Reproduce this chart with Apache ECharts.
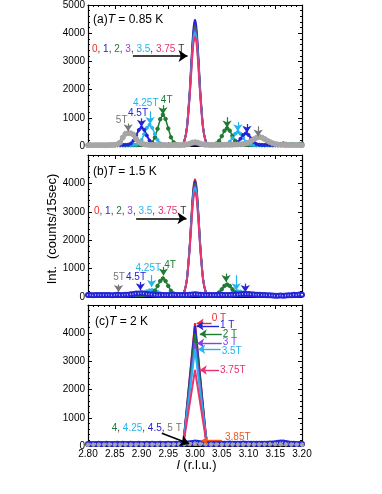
<!DOCTYPE html>
<html>
<head>
<meta charset="utf-8">
<script src="https://cdn.jsdelivr.net/npm/echarts@6/dist/echarts.min.js"></script>
<style>
html, body { margin: 0; padding: 0; background: #fff; }
#chart { width: 382px; height: 494px; }
</style>
</head>
<body>
<div id="chart"></div>
<script>
// l grid (r.l.u.), step 0.005 and step 0.01
const L = [2.800,2.805,2.810,2.815,2.820,2.825,2.830,2.835,2.840,2.845,
  2.850,2.855,2.860,2.865,2.870,2.875,2.880,2.885,2.890,2.895,
  2.900,2.905,2.910,2.915,2.920,2.925,2.930,2.935,2.940,2.945,
  2.950,2.955,2.960,2.965,2.970,2.975,2.980,2.985,2.990,2.995,
  3.000,3.005,3.010,3.015,3.020,3.025,3.030,3.035,3.040,3.045,
  3.050,3.055,3.060,3.065,3.070,3.075,3.080,3.085,3.090,3.095,
  3.100,3.105,3.110,3.115,3.120,3.125,3.130,3.135,3.140,3.145,
  3.150,3.155,3.160,3.165,3.170,3.175,3.180,3.185,3.190,3.195,3.200];
const L10 = [2.80,2.81,2.82,2.83,2.84,2.85,2.86,2.87,2.88,2.89,
  2.90,2.91,2.92,2.93,2.94,2.95,2.96,2.97,2.98,2.99,
  3.00,3.01,3.02,3.03,3.04,3.05,3.06,3.07,3.08,3.09,
  3.10,3.11,3.12,3.13,3.14,3.15,3.16,3.17,3.18,3.19,3.20];
const fitL = [2.96,2.97,2.975,2.98,2.985,2.99,2.9925,2.995,2.9975,3.00,
  3.0025,3.005,3.0075,3.01,3.015,3.02,3.025,3.03,3.04];
const triL = [2.978, 3.00, 3.022];
const orangeL = [2.96, 2.98, 2.99, 3.00, 3.01, 3.02, 3.04];

// (a) T = 0.85 K : fits for 0, 1, 2, 3, 3.5, 3.75 T
const a0 = [30,32,52,176,675,1879,2705,3513,4111,4330,4111,3513,2705,1879,675,176,52,32,30];
const a1 = [30,32,52,181,698,1944,2798,3635,4253,4480,4253,3635,2798,1944,698,181,52,32,30];
const a2 = [30,32,51,173,660,1836,2642,3432,4016,4230,4016,3432,2642,1836,660,173,51,32,30];
const a3 = [30,32,50,169,645,1793,2580,3351,3921,4130,3921,3351,2580,1793,645,169,50,32,30];
const a35 = [30,32,50,166,630,1750,2518,3270,3826,4030,3826,3270,2518,1750,630,166,50,32,30];
const a375 = [30,32,49,161,608,1686,2425,3149,3684,3880,3684,3149,2425,1686,608,161,49,32,30];
// (a) data 4, 4.25, 4.5, 5 T
const a4 = [25,30,22,35,28,30,24,32,27,30,
  26,33,28,30,25,31,29,34,30,36,
  38,40,45,60,125,300,610,950,1110,960,
  620,310,130,60,40,35,32,40,65,110,
  140,115,65,40,35,38,40,50,85,180,
  350,540,630,545,360,185,90,50,40,35,
  38,32,36,30,34,31,28,33,30,27,
  30,26,32,35,28,40,60,45,30,70,85];
const a425 = [30,28,33,26,31,29,35,27,30,32,
  28,34,30,36,33,38,35,40,48,92,
  210,420,645,750,650,420,215,95,50,36,
  32,30,35,29,31,33,30,36,50,70,
  80,68,48,35,30,33,29,31,30,34,
  36,42,72,150,285,430,500,435,290,150,
  72,42,34,30,32,28,31,29,33,30,
  27,31,29,34,30,28,32,30,29,33,31];
const a45 = [35,42,30,38,45,33,40,36,44,31,
  39,35,41,37,40,48,85,190,370,570,
  660,575,375,192,88,48,36,34,38,32,
  36,30,35,33,37,31,34,38,45,55,
  60,52,42,35,32,36,30,34,31,35,
  33,38,34,36,42,68,135,258,390,450,
  392,260,138,70,44,38,35,40,33,37,
  34,45,70,95,80,50,38,60,42,35,55];
const a5 = [30,32,28,31,30,33,29,31,34,36,
  40,60,120,300,430,455,450,400,250,140,
  90,60,45,38,35,33,34,31,35,33,
  30,34,32,36,33,38,42,55,80,120,
  135,120,80,55,45,40,38,36,40,38,
  42,40,45,42,48,50,55,60,70,85,
  120,180,240,290,320,300,250,190,140,100,
  70,55,45,40,38,35,36,33,35,32,30];

// (b) T = 1.5 K
const b0 = [50,52,71,189,665,1813,2600,3371,3941,4150,3941,3371,2600,1813,665,189,71,52,50];
const b1 = [50,52,70,187,655,1783,2557,3314,3874,4080,3874,3314,2557,1783,655,187,70,52,50];
const b2 = [50,52,70,184,643,1749,2507,3250,3799,4000,3799,3250,2507,1749,643,184,70,52,50];
const b3 = [50,52,69,181,628,1706,2445,3169,3704,3900,3704,3169,2445,1706,628,181,69,52,50];
const b35 = [50,52,69,179,620,1684,2414,3128,3656,3850,3656,3128,2414,1684,620,179,69,52,50];
const b375 = [50,52,68,174,598,1620,2320,3007,3514,3700,3514,3007,2320,1620,598,174,68,52,50];
const b4 = [55,62,58,60,65,57,61,59,63,58,
  60,64,57,62,60,58,65,61,59,63,
  60,66,72,85,120,220,390,560,655,560,
  390,220,120,80,66,62,60,64,75,95,
  110,95,75,62,58,61,60,70,95,160,
  270,390,440,390,270,160,95,70,62,60,
  64,58,61,59,63,57,60,62,58,56,
  50,48,45,52,40,55,70,60,85,75,65];
const b425 = [60,58,62,59,61,57,63,60,58,62,
  60,59,61,63,60,62,64,66,70,80,
  110,150,200,235,245,225,180,130,95,75,
  66,63,61,60,62,59,61,63,65,70,
  75,70,64,61,60,62,59,61,63,62,
  66,72,85,110,150,185,200,190,160,120,
  90,72,64,61,60,58,62,57,55,50,
  46,52,42,48,55,60,50,62,68,58,55];
const b45 = [68,72,65,70,74,67,71,69,73,66,
  70,75,68,72,76,80,95,110,120,125,
  128,122,110,95,85,78,74,72,70,73,
  69,71,75,72,68,70,73,71,80,90,
  95,88,78,72,70,74,69,71,73,70,
  75,72,69,74,76,80,85,95,105,110,
  108,98,88,80,76,72,70,65,60,55,
  48,45,55,40,50,65,60,80,70,90,75];

// (c) T = 2 K
const c0 = [40,4355,40];
const c1 = [40,4270,40];
const c2 = [40,3980,40];
const c3 = [40,3650,40];
const c35 = [40,3440,40];
const c375 = [40,2700,40];
const c385 = [50,60,110,160,140,80,55];
const c4 = [60,65,58,62,66,60,64,68,62,66,70,65,68,72,66,70,74,78,85,95,
  120,100,85,80,88,95,90,100,92,96,88,92,85,90,95,100,110,90,80,75,70];
const c425 = [55,58,52,56,60,54,57,53,59,55,58,56,60,54,58,62,60,65,70,85,
  100,85,70,65,62,60,64,60,62,58,61,60,63,59,62,66,70,64,60,58,55];
const c45 = [70,75,68,72,78,70,74,80,72,69,
  75,78,71,76,73,70,77,74,72,79,
  75,71,76,73,78,74,70,76,72,75,
  79,73,71,77,74,80,85,90,95,110,
  125,115,95,85,78,75,72,78,74,80,
  76,82,78,85,80,76,83,79,86,82,
  78,84,80,77,82,80,78,82,85,90,
  100,115,125,120,105,90,82,78,75,70,68];
const c5 = [45,48,44,46,50,47,45,49,46,48,50,47,49,46,48,52,50,55,60,70,
  80,70,60,55,52,50,53,55,52,54,56,53,55,58,60,62,58,55,52,50,48];

const RED = '#ee2a2a', BLUE = '#2424d6', GREEN = '#1f7a32', PURPLE = '#8c3fe6',
  CYAN = '#23b3ee', PINK = '#e8336e', GRAY = '#a6a6a6', DGRAY = '#777777',
  ORANGE = '#f0561e', BLACK = '#000000';
const FONT = 'Liberation Sans, Arial, Helvetica, sans-serif';

// arrows: [x1, y1, x2, y2, colour]
const arrowsA = [
  [2.875, 800, 2.875, 520, DGRAY], [2.900, 980, 2.900, 680, BLUE],
  [2.916, 1230, 2.916, 780, CYAN], [2.940, 1450, 2.940, 1130, GREEN],
  [3.060, 1020, 3.060, 660, GREEN], [3.080, 850, 3.080, 520, CYAN],
  [3.097, 780, 3.097, 470, BLUE], [3.118, 700, 3.118, 340, DGRAY]
];
const bigA = [[2.884, 3190, 2.986, 3190, BLACK]];
const arrowsB = [
  [2.857, 437, 2.857, 177, DGRAY], [2.898, 530, 2.898, 237, BLUE],
  [2.919, 767, 2.919, 353, CYAN], [2.941, 1060, 2.941, 760, GREEN],
  [3.058, 826, 3.058, 530, GREEN], [3.077, 767, 3.077, 237, CYAN],
  [3.094, 473, 3.094, 177, BLUE]
];
const bigB = [[2.890, 2770, 2.984, 2770, BLACK]];
const arrowsC = [
  [3.031, 4355, 3.003, 4355, RED], [3.045, 4260, 3.003, 4260, BLUE],
  [3.050, 3975, 3.009, 3975, GREEN], [3.050, 3644, 3.004, 3644, PURPLE],
  [3.048, 3430, 3.006, 3430, CYAN], [3.045, 2694, 3.009, 2694, PINK],
  [3.050, 190, 3.012, 190, ORANGE]
];
const bigC = [[2.938, 450, 2.989, 80, BLACK]];

const grids = [
  { left: 88, right: 80, top: 5, height: 141 },
  { left: 88, right: 80, top: 155, height: 142 },
  { left: 88, right: 80, top: 305, height: 141 }
];

function xAxis(i, pos) {
  return {
    type: 'value', gridIndex: i, position: pos, min: 2.8, max: 3.2, interval: 0.05,
    axisLine: { show: true, onZero: false, lineStyle: { color: '#000', width: 1.2 } },
    axisTick: { show: true, inside: true, length: 4, lineStyle: { color: '#000' } },
    minorTick: { show: true, splitNumber: 5, length: 2, lineStyle: { color: '#000' } },
    axisLabel: {
      show: i === 2 && pos === 'bottom', formatter: v => v.toFixed(2),
      fontSize: 10, color: '#000', margin: 3, fontFamily: FONT,
      showMinLabel: true, showMaxLabel: true
    },
    splitLine: { show: false }
  };
}
function yAxis(i, pos) {
  return {
    type: 'value', gridIndex: i, position: pos, min: 0, max: 5000, interval: 1000,
    axisLine: { show: true, onZero: false, lineStyle: { color: '#000', width: 1.2 } },
    axisTick: { show: true, inside: true, length: 4, lineStyle: { color: '#000' } },
    minorTick: { show: true, splitNumber: 5, length: 2, lineStyle: { color: '#000' } },
    axisLabel: {
      show: pos === 'left', formatter: v => (i > 0 && v === 5000) ? '' : String(v),
      fontSize: 10, color: '#000', margin: 3, fontFamily: FONT
    },
    splitLine: { show: false }
  };
}

function pairs(xs, ys) {
  return xs.map((x, k) => [x, ys[k]]);
}
function fit(i, ys, color) {
  return {
    type: 'line', xAxisIndex: 2 * i, yAxisIndex: 2 * i, data: pairs(fitL, ys),
    showSymbol: false, smooth: 0.2, lineStyle: { color: color, width: 1.8 },
    itemStyle: { color: color }, silent: true
  };
}
function tri(i, ys, color) {
  return {
    type: 'line', xAxisIndex: 2 * i, yAxisIndex: 2 * i, data: pairs(triL, ys),
    showSymbol: false, lineStyle: { color: color, width: 2 },
    itemStyle: { color: color }, silent: true
  };
}
function pts(i, xs, ys, color, width, symbol, size) {
  return {
    type: 'line', xAxisIndex: 2 * i, yAxisIndex: 2 * i, data: pairs(xs, ys),
    symbol: symbol, symbolSize: size, showSymbol: true,
    lineStyle: { color: color, width: width },
    itemStyle: { color: color, borderColor: color, borderWidth: 1 }, silent: true
  };
}
function arrows(i, list, size, width) {
  return {
    type: 'line', xAxisIndex: 2 * i, yAxisIndex: 2 * i, data: [], silent: true,
    markLine: {
      silent: true, animation: false, symbol: ['none', 'arrow'], symbolSize: size,
      label: { show: false }, emphasis: { disabled: true },
      data: list.map(a => [
        { coord: [a[0], a[1]], lineStyle: { color: a[4], width: width, type: 'solid' }, itemStyle: { color: a[4] } },
        { coord: [a[2], a[3]] }
      ])
    }
  };
}

function txt(x, y, text, color, size, align, rich) {
  return {
    type: 'text', x: x, y: y, silent: true,
    style: {
      text: text, fill: color, fontSize: size, fontFamily: FONT,
      align: align || 'left', verticalAlign: 'middle', rich: rich || {}
    }
  };
}
function r(color, size) {
  return { fill: color, color: color, fontSize: size, fontFamily: FONT };
}
const fieldRich = {
  r: r(RED, 10), b: r(BLUE, 10), g: r(GREEN, 10), p: r(PURPLE, 10),
  c: r(CYAN, 10), k: r(PINK, 10), d: r(DGRAY, 10)
};
const itRich = { i: { fontStyle: 'italic', fontSize: 12, fontFamily: FONT, fill: '#000' } };

const series = [
  fit(0, a0, RED), fit(0, a1, BLUE), fit(0, a2, GREEN), fit(0, a3, PURPLE), fit(0, a35, CYAN), fit(0, a375, PINK),
  pts(0, L, a4, GREEN, 1.5, 'circle', 3.5),
  pts(0, L, a425, CYAN, 1.5, 'circle', 3),
  pts(0, L, a45, BLUE, 2, 'circle', 3),
  pts(0, L, a5, GRAY, 3.5, 'circle', 5),
  arrows(0, arrowsA, 7, 1.2), arrows(0, bigA, 9, 1.6),

  fit(1, b0, RED), fit(1, b1, BLUE), fit(1, b2, GREEN), fit(1, b3, PURPLE), fit(1, b35, CYAN), fit(1, b375, PINK),
  pts(1, L, b425, CYAN, 1.5, 'circle', 3),
  pts(1, L, b4, GREEN, 1.5, 'circle', 3.5),
  pts(1, L, b45, BLUE, 1, 'emptyCircle', 4),
  arrows(1, arrowsB, 7, 1.2), arrows(1, bigB, 9, 1.6),

  pts(2, L10, c425, CYAN, 1.2, 'circle', 3),
  pts(2, L10, c4, GREEN, 1.2, 'circle', 3),
  pts(2, L, c45, BLUE, 1, 'emptyCircle', 4),
  pts(2, L10, c5, GRAY, 2.5, 'circle', 3.5),
  pts(2, orangeL, c385, ORANGE, 1.5, 'none', 0),
  tri(2, c0, RED), tri(2, c1, BLUE), tri(2, c2, GREEN), tri(2, c3, PURPLE), tri(2, c35, CYAN), tri(2, c375, PINK),
  arrows(2, arrowsC, 7, 1.4), arrows(2, bigC, 9, 1.6)
];

const graphic = [
  txt(93, 20, '(a){i|T} = 0.85 K', '#000', 12, 'left', itRich),
  txt(92, 49, '{r|0}, {b|1}, {g|2}, {p|3}, {c|3.5}, {k|3.75} T', '#333', 10, 'left', fieldRich),
  txt(121.7, 120.7, '5T', DGRAY, 10, 'center'),
  txt(138, 113, '4.5T', BLUE, 10, 'center'),
  txt(145.7, 103.3, '4.25T', CYAN, 10, 'center'),
  txt(166.7, 100, '4T', GREEN, 10, 'center'),

  txt(93, 171.7, '(b){i|T} = 1.5 K', '#000', 12, 'left', itRich),
  txt(94, 211.7, '{r|0}, {b|1}, {g|2}, {p|3}, {c|3.5}, {k|3.75} T', '#333', 10, 'left', fieldRich),
  txt(119, 277, '5T', DGRAY, 10, 'center'),
  txt(136, 277, '4.5T', BLUE, 10, 'center'),
  txt(148.3, 268, '4.25T', CYAN, 10, 'center'),
  txt(170, 265, '4T', GREEN, 10, 'center'),

  txt(95, 321.7, '(c){i|T} = 2 K', '#000', 12, 'left', itRich),
  txt(211.7, 318.3, '0 T', RED, 10),
  txt(220, 325.7, '1 T', BLUE, 10),
  txt(222.7, 334, '2 T', GREEN, 10),
  txt(222.7, 342.7, '3 T', PURPLE, 10),
  txt(221.7, 351, '3.5T', CYAN, 10),
  txt(220, 370, '3.75T', PINK, 10),
  txt(225, 437.3, '3.85T', ORANGE, 10),
  txt(111.7, 428.3, '{g|4}, {c|4.25}, {b|4.5}, {d|5 T}', '#333', 10, 'left', fieldRich),

  {
    type: 'text', x: 52, y: 229, rotation: Math.PI / 2, silent: true,
    style: { text: 'Int.  (counts/15sec)', fill: '#000', fontSize: 13, fontFamily: FONT, align: 'center', verticalAlign: 'middle' }
  },
  txt(196.7, 465.7, '{i|l} (r.l.u.)', '#000', 13, 'center',
    { i: { fontStyle: 'italic', fontSize: 13, fontFamily: FONT, fill: '#000' } })
];

const chart = echarts.init(document.getElementById('chart'));
chart.setOption({
  animation: false,
  backgroundColor: '#fff',
  grid: grids,
  xAxis: [xAxis(0, 'bottom'), xAxis(0, 'top'), xAxis(1, 'bottom'), xAxis(1, 'top'), xAxis(2, 'bottom'), xAxis(2, 'top')],
  yAxis: [yAxis(0, 'left'), yAxis(0, 'right'), yAxis(1, 'left'), yAxis(1, 'right'), yAxis(2, 'left'), yAxis(2, 'right')],
  series: series,
  graphic: graphic
});
</script>
</body>
</html>
